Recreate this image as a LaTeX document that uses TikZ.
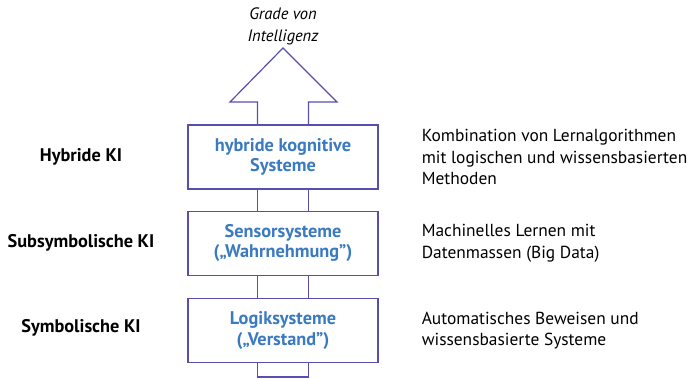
\documentclass[tikz,border=0pt]{standalone}
\usepackage{fontspec}
\setmainfont{PT Sans}
\usetikzlibrary{positioning}
\definecolor{kilinie}{RGB}{88,78,178}
\definecolor{kitext}{RGB}{58,122,192}

\begin{document}
\begin{tikzpicture}[x=1pt,y=-1pt,
    linie/.style={draw=kilinie,line width=1.2pt},
    stufe/.style={linie,minimum width=190pt,minimum height=64pt,inner sep=0pt,
        align=center,text=kitext,font=\bfseries\fontsize{18.3}{20.5}\selectfont},
    ebene/.style={font=\bfseries\fontsize{18.3}{20}\selectfont},
    beschr/.style={anchor=west,align=left,inner sep=0pt,
        font=\fontsize{17.4}{21.5}\selectfont}]
    \useasboundingbox (0,0) rectangle (688,379);
    % Stufen
    \node[stufe] (hybrid) at (283,157) {hybride kognitive\\Systeme};
    \node[stufe,below=21pt of hybrid] (sensor) {Sensorsysteme\\(„Wahrnehmung”)};
    \node[stufe,below=22pt of sensor] (logik) {Logiksysteme\\(„Verstand”)};
    % Pfeil
    \draw[linie,line join=miter] ([xshift=-25.5pt]hybrid.north) -- (257.5,102) -- (230,102)
        -- (283,48) -- (337,102) -- (308.5,102) -- ([xshift=25.5pt]hybrid.north);
    \node[font=\itshape\fontsize{16.5}{22}\selectfont,align=center] (grad) at (283,26)
        {Grade von\\Intelligenz};
    \foreach \oben/\unten in {hybrid/sensor,sensor/logik}
    {
        \draw[linie] ([xshift=-25.5pt]\oben.south) -- ([xshift=-25.5pt]\unten.north);
        \draw[linie] ([xshift=25.5pt]\oben.south) -- ([xshift=25.5pt]\unten.north);
    }
    \coordinate (fuss) at (283,377);
    \draw[linie,line join=miter] ([xshift=-25.5pt]logik.south) -- ([xshift=-25.5pt]fuss)
        -- ([xshift=25.5pt]fuss) -- ([xshift=25.5pt]logik.south);
    % Ebenen
    \node[ebene] (hki) at (81,157) {Hybride KI};
    \node[ebene] (ski) at (81,243) {Subsymbolische KI};
    \node[ebene] (yki) at (81,328) {Symbolische KI};
    % Beschreibungen
    \node[beschr,right=43pt of hybrid] (bhybrid)
        {Kombination von Lernalgorithmen\\mit logischen und wissensbasierten\\Methoden};
    \node[beschr,right=43pt of sensor] (bsensor)
        {Machinelles Lernen mit\\Datenmassen (Big Data)};
    \node[beschr,right=43pt of logik] (blogik)
        {Automatisches Beweisen und\\wissensbasierte Systeme};
\end{tikzpicture}
\end{document}
